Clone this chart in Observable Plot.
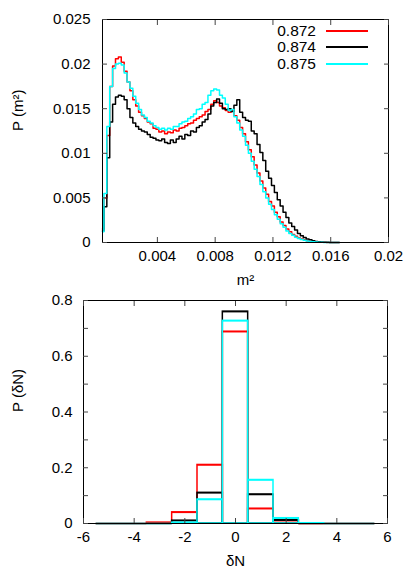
<!DOCTYPE html>
<html><head><meta charset="utf-8">
<script src="https://cdn.jsdelivr.net/npm/d3@7"></script>
<script src="https://cdn.jsdelivr.net/npm/@observablehq/plot@0.6"></script>
<style>
body{margin:0;background:#fff;}
#chart{position:relative;width:415px;height:572px;font-family:"Liberation Sans",Arial,sans-serif;color:#000;}
#chart svg{position:absolute;left:0;display:block;}
.leg{position:absolute;left:250px;width:160px;height:16px;font-size:15.5px;line-height:16px;}
.leg span{position:absolute;right:94px;top:0;}
.leg i{position:absolute;left:76px;top:7px;width:42px;height:0;border-top:2px solid;}
</style></head><body><div id="chart"></div>
<script>
// ---- top panel: P(m^2) ----
const m2 = [0.0002,0.0004,0.0006,0.0008,0.0010,0.0012,0.0014,0.0016,0.0018,0.0020,
  0.0022,0.0024,0.0026,0.0028,0.0030,0.0032,0.0034,0.0036,0.0038,0.0040,
  0.0042,0.0044,0.0046,0.0048,0.0050,0.0052,0.0054,0.0056,0.0058,0.0060,
  0.0062,0.0064,0.0066,0.0068,0.0070,0.0072,0.0074,0.0076,0.0078,0.0080,
  0.0082,0.0084,0.0086,0.0088,0.0090,0.0092,0.0094,0.0096,0.0098,0.0100,
  0.0102,0.0104,0.0106,0.0108,0.0110,0.0112,0.0114,0.0116,0.0118,0.0120,
  0.0122,0.0124,0.0126,0.0128,0.0130,0.0132,0.0134,0.0136,0.0138,0.0140,
  0.0142,0.0144,0.0146,0.0148,0.0150,0.0152,0.0154,0.0156,0.0158,0.0160,
  0.0162,0.0164,0.0166];
const p872 = [0.0015,0.0050,0.0120,0.0175,0.0198,0.0206,0.0208,0.0202,0.0192,0.0180,
  0.0170,0.0160,0.0153,0.0146,0.0142,0.0139,0.0135,0.0133,0.0128,0.0127,
  0.0124,0.0125,0.0122,0.0124,0.0123,0.0126,0.0125,0.0128,0.0129,0.0131,
  0.0133,0.0134,0.0137,0.0139,0.0141,0.0143,0.0147,0.0149,0.0155,0.0159,
  0.0157,0.0153,0.0151,0.0148,0.0146,0.0148,0.0142,0.0137,0.0129,0.0122,
  0.0113,0.0104,0.0096,0.0087,0.0078,0.0069,0.0061,0.0054,0.0046,0.0041,
  0.0034,0.0029,0.0023,0.0019,0.0015,0.0012,0.0009,0.0007,0.0005,0.0004,
  0.0003,0.0002,0.00015,0.0001,0.00007,0.00005,0.00003,0.00002,0.00001,0.00001,
  0,0,0];
const p874 = [0.0013,0.0040,0.0095,0.0135,0.0155,0.0163,0.0165,0.0164,0.0160,0.0150,
  0.0140,0.0134,0.0130,0.0127,0.0125,0.0124,0.0121,0.0118,0.0117,0.0115,
  0.0114,0.0116,0.0112,0.0111,0.0115,0.0112,0.0116,0.0119,0.0116,0.0121,
  0.0120,0.0125,0.0124,0.0129,0.0131,0.0135,0.0138,0.0144,0.0153,0.0157,
  0.0161,0.0156,0.0150,0.0149,0.0150,0.0147,0.0154,0.0160,0.0146,0.0140,
  0.0137,0.0136,0.0125,0.0122,0.0110,0.0101,0.0092,0.0080,0.0072,0.0064,
  0.0056,0.0048,0.0041,0.0034,0.0028,0.0022,0.0018,0.0014,0.0010,0.00075,
  0.00055,0.0004,0.0003,0.0002,0.00012,0.00008,0.00005,0.00003,0.00002,0.00001,
  0.00001,0,0];
const p875 = [0.0012,0.0055,0.0130,0.0175,0.0195,0.0200,0.0201,0.0199,0.0190,0.0180,
  0.0173,0.0164,0.0156,0.0149,0.0143,0.0140,0.0136,0.0134,0.0131,0.0129,
  0.0127,0.0128,0.0126,0.0128,0.0127,0.0130,0.0130,0.0133,0.0135,0.0136,
  0.0139,0.0141,0.0144,0.0149,0.0150,0.0155,0.0157,0.0165,0.0170,0.0172,
  0.0171,0.0165,0.0162,0.0155,0.0148,0.0149,0.0141,0.0134,0.0126,0.0119,
  0.0109,0.0100,0.0091,0.0082,0.0074,0.0065,0.0057,0.0050,0.0043,0.0037,
  0.0031,0.0026,0.0021,0.0017,0.0013,0.0010,0.0008,0.0006,0.00045,0.00035,
  0.00025,0.00018,0.00012,0.00008,0.00005,0.00003,0.00002,0.00001,0.00001,0,
  0,0,0];
const seriesNames = ["0.872","0.874","0.875"];
const seriesColors = ["#ff0000","#000000","#00ffff"];
const m2Ticks = [0.004,0.008,0.012,0.016,0.02];
const pTicks = [0,0.005,0.01,0.015,0.02,0.025];

// ---- bottom panel: P(δN) ----
const dN = [-5,-4,-3,-2,-1,0,1,2,3,4,5];
const q872 = [0,0,0.003,0.040,0.210,0.688,0.053,0.010,0,0,0];
const q874 = [0,0,0,0.010,0.110,0.760,0.104,0.012,0,0,0];
const q875 = [0,0,0,0.003,0.086,0.727,0.156,0.019,0.001,0,0];
const dNTicks = [-6,-4,-2,0,2,4,6];
const qTicks = [0,0.2,0.4,0.6,0.8];
const qMinorTicks = [0,0.1,0.2,0.3,0.4,0.5,0.6,0.7,0.8];

const font = {fontFamily:"'Liberation Sans', Arial, sans-serif", fontSize:"15px", color:"#000", background:"transparent", overflow:"visible"};
const fmt = d => String(d);

const topSeries = [p872, p874, p875].map((arr, k) =>
  m2.map((m, i) => ({m, p: arr[i], s: seriesNames[k]})));

const topPlot = Plot.plot({
  width: 415, height: 290,
  marginTop: 19, marginBottom: 48, marginLeft: 102, marginRight: 27,
  x: {domain: [0.0002, 0.02], label: null},
  y: {domain: [0, 0.025], label: null},
  style: font,
  marks: [
    ...topSeries.map((rows, k) => Plot.line(rows, {x: "m", y: "p", curve: "step", stroke: seriesColors[k], strokeWidth: 1.5})),
    Plot.frame({stroke: "#000"}),
    Plot.axisX(m2Ticks, {anchor: "bottom", tickSize: -5, fill: "none", label: null, stroke: "#444"}),
    Plot.axisX(m2Ticks, {anchor: "top", tickSize: -5, fill: "none", label: null, stroke: "#444"}),
    Plot.axisY(pTicks, {anchor: "left", tickSize: -5, fill: "none", label: null, stroke: "#444"}),
    Plot.axisY(pTicks, {anchor: "right", tickSize: -5, fill: "none", label: null, stroke: "#444"}),
    Plot.axisX(m2Ticks, {anchor: "bottom", tickSize: 0, tickPadding: 8, tickFormat: fmt, label: null}),
    Plot.axisY(pTicks, {anchor: "left", tickSize: 0, tickPadding: 12, tickFormat: fmt, label: null}),
    Plot.text(["m²"], {frameAnchor: "bottom", dy: 42, text: d => d}),
    Plot.text(["P (m²)"], {frameAnchor: "left", dx: -84, rotate: -90, text: d => d})
  ]
});
topPlot.style.top = "0px";

const botSeries = [q872, q874, q875].map((arr, k) =>
  dN.map((n, i) => ({n, q: arr[i], s: seriesNames[k]})));

const botPlot = Plot.plot({
  width: 415, height: 282,
  marginTop: 10, marginBottom: 49, marginLeft: 83, marginRight: 28,
  x: {domain: [-6, 6], label: null},
  y: {domain: [0, 0.8], label: null},
  style: font,
  marks: [
    ...botSeries.flatMap((rows, k) => [
      Plot.rect(rows, {x1: d => d.n - 0.5, x2: d => d.n + 0.5, y1: 0, y2: "q", fill: "none", stroke: seriesColors[k], strokeWidth: 1.5}),
      Plot.ruleY(rows, {y: "q", x1: d => d.n - 0.5, x2: d => d.n + 0.5, stroke: seriesColors[k], strokeWidth: 1.5})
    ]),
    Plot.frame({stroke: "#000"}),
    Plot.axisX(dNTicks, {anchor: "bottom", tickSize: -5, fill: "none", label: null, stroke: "#444"}),
    Plot.axisX(dNTicks, {anchor: "top", tickSize: -5, fill: "none", label: null, stroke: "#444"}),
    Plot.axisY(qMinorTicks, {anchor: "left", tickSize: -5, fill: "none", label: null, stroke: "#444"}),
    Plot.axisY(qMinorTicks, {anchor: "right", tickSize: -5, fill: "none", label: null, stroke: "#444"}),
    Plot.axisX(dNTicks, {anchor: "bottom", tickSize: 0, tickPadding: 8, tickFormat: fmt, label: null}),
    Plot.axisY(qTicks, {anchor: "left", tickSize: 0, tickPadding: 11, tickFormat: fmt, label: null}),
    Plot.text(["δN"], {frameAnchor: "bottom", dy: 42, text: d => d}),
    Plot.text(["P (δN)"], {frameAnchor: "left", dx: -65, rotate: -90, text: d => d})
  ]
});
botPlot.style.top = "290px";

const chart = document.getElementById("chart");
chart.append(topPlot, botPlot);

// legend (top panel, top-right)
seriesNames.forEach((name, k) => {
  const row = document.createElement("div");
  row.className = "leg";
  row.style.top = (23 + k * 16.3) + "px";
  const t = document.createElement("span");
  t.textContent = name;
  const l = document.createElement("i");
  l.style.borderColor = seriesColors[k];
  row.append(t, l);
  chart.append(row);
});
</script></body></html>
